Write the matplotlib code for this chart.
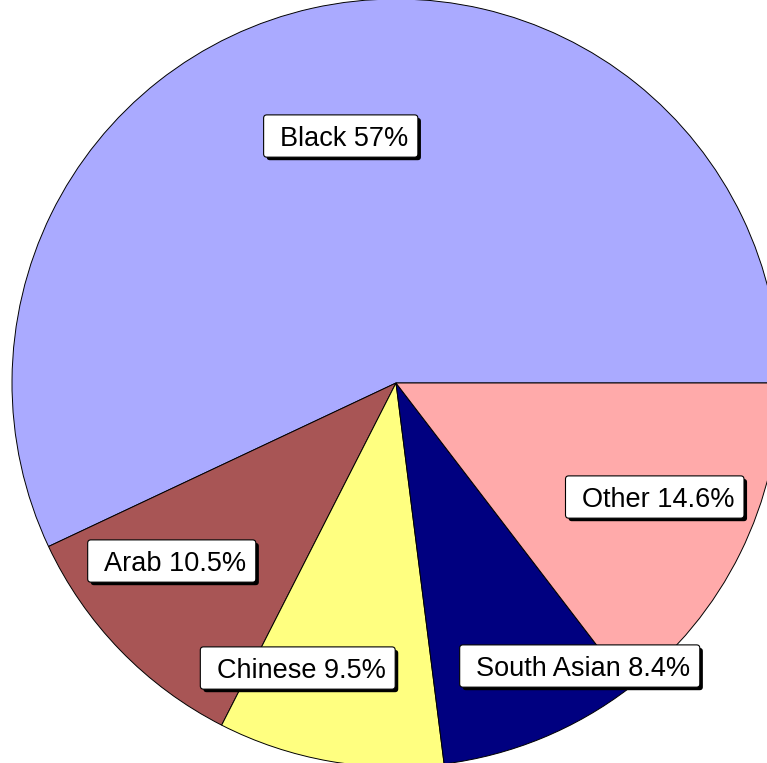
import matplotlib
matplotlib.use("Agg")
import matplotlib.pyplot as plt
from matplotlib.patches import BoxStyle
import matplotlib.patheffects as pe

categories = ["Black", "Arab", "Chinese", "South Asian", "Other"]
values = [57, 10.5, 9.5, 8.4, 14.6]
colors = ["#AAAAFF", "#A85555", "#FFFF80", "#000080", "#FFAAAA"]
label_pos = [(344, 624), (175, 199), (301, 92), (583, 94), (658, 263)]

W, H = 767, 763
fig = plt.figure(figsize=(W / 100, H / 100), dpi=100)
ax = fig.add_axes([0, 0, 1, 1])
ax.pie(values, colors=colors, startangle=0, counterclock=True,
       center=(396, 380), radius=384,
       wedgeprops=dict(edgecolor="black", linewidth=0.7))
ax.set_xlim(0, W)
ax.set_ylim(0, H)
ax.set_aspect("equal", adjustable="box")
ax.axis("off")


def label_box(x0, y0, width, height, mutation_size):
    px = 0.48 * mutation_size
    py = 0.30 * mutation_size
    yshift = 0.11 * mutation_size
    xshift = -0.12 * mutation_size
    style = BoxStyle.Round(pad=0, rounding_size=0.12)
    return style(x0 - px + xshift, y0 - py + yshift, width + 2 * px,
                 height + 2 * py, mutation_size)


for cat, val, (lx, ly) in zip(categories, values, label_pos):
    t = ax.text(lx, ly, f"{cat} {val:g}%", ha="center", va="center",
                fontsize=19.5, family=["Liberation Sans", "DejaVu Sans"],
                bbox=dict(boxstyle=label_box, facecolor="white",
                          edgecolor="black", linewidth=0.8))
    t.get_bbox_patch().set_path_effects([
        pe.withSimplePatchShadow(offset=(2.2, -2.2), shadow_rgbFace="black", alpha=1.0)
    ])

fig.savefig("out.png", dpi=100)
